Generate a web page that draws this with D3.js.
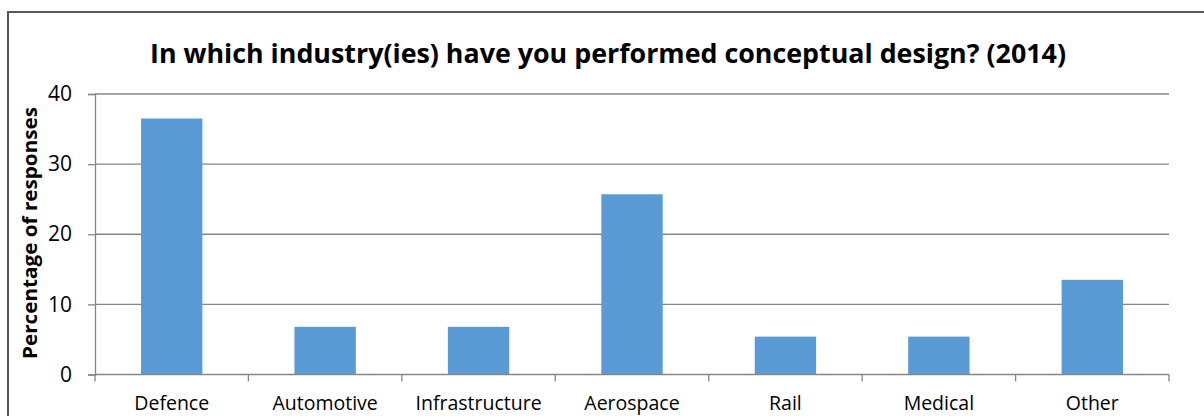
<!DOCTYPE html>
<html>
<head>
<meta charset="utf-8">
<script src="https://cdn.jsdelivr.net/npm/d3@7"></script>
<style>
  html, body { margin: 0; padding: 0; background: #fff; }
  svg { display: block; }
  text { font-family: "Open Sans", "Liberation Sans", sans-serif; fill: #000; }
</style>
</head>
<body>
<svg id="chart" width="1204" height="416"></svg>
<script>
// Survey responses by industry (percentage of 74 respondents)
const categories = ["Defence", "Automotive", "Infrastructure", "Aerospace", "Rail", "Medical", "Other"];
const percentages = [36.5, 6.8, 6.8, 25.7, 5.4, 5.4, 13.5];
const yTicks = [0, 10, 20, 30, 40];
const titleText = "In which industry(ies) have you performed conceptual design? (2014)";
const yAxisTitle = "Percentage of responses";

const svg = d3.select("#chart");
const margin = { left: 95, right: 1169, top: 94, bottom: 374.5 };

// Outer chart frame
svg.append("rect")
  .attr("x", 8).attr("y", 12)
  .attr("width", 1210).attr("height", 420)
  .attr("fill", "none").attr("stroke", "#595959").attr("stroke-width", 2);

const x = d3.scaleBand().domain(categories).range([margin.left, margin.right]).paddingInner(0.6).paddingOuter(0.3);
const xOuter = d3.scaleBand().domain(categories).range([margin.left, margin.right]);
const y = d3.scaleLinear().domain([0, 40]).range([margin.bottom, margin.top]);

// Horizontal gridlines
svg.append("g").selectAll("line").data(yTicks.filter(d => d > 0)).join("line")
  .attr("x1", margin.left).attr("x2", margin.right)
  .attr("y1", d => y(d)).attr("y2", d => y(d))
  .attr("stroke", "#868686").attr("stroke-width", 1.3);

// Bars
svg.append("g").selectAll("rect").data(categories).join("rect")
  .attr("x", d => x(d))
  .attr("width", x.bandwidth())
  .attr("y", (d, i) => y(percentages[i]))
  .attr("height", (d, i) => y(0) - y(percentages[i]))
  .attr("fill", "#5B9BD5");

// Y axis
const yAxis = svg.append("g").attr("transform", `translate(${margin.left},0)`)
  .call(d3.axisLeft(y).tickValues(yTicks).tickSize(7).tickPadding(16));
yAxis.select(".domain").attr("stroke", "#868686").attr("stroke-width", 1.3);
yAxis.selectAll(".tick line").attr("stroke", "#868686").attr("stroke-width", 1.3);
yAxis.selectAll(".tick text").attr("font-size", 21).attr("fill", "#000")
  .style("font-family", '"Open Sans", sans-serif');

// X axis: tick marks on category boundaries
const xg = svg.append("g");
xg.append("line")
  .attr("x1", margin.left).attr("x2", margin.right)
  .attr("y1", y(0)).attr("y2", y(0))
  .attr("stroke", "#868686").attr("stroke-width", 1.3);
const bounds = categories.map(c => xOuter(c)).concat([margin.right]);
xg.selectAll("line.tk").data(bounds).join("line").attr("class", "tk")
  .attr("x1", d => d).attr("x2", d => d)
  .attr("y1", y(0)).attr("y2", y(0) + 7)
  .attr("stroke", "#868686").attr("stroke-width", 1.3);
xg.selectAll("text").data(categories).join("text")
  .attr("x", d => xOuter(d) + xOuter.bandwidth() / 2)
  .attr("y", 410)
  .attr("text-anchor", "middle")
  .attr("font-size", 19.5)
  .text(d => d);

// Y axis title
svg.append("text")
  .attr("transform", "translate(37,233) rotate(-90)")
  .attr("text-anchor", "middle")
  .attr("font-size", 19)
  .attr("font-weight", "bold")
  .attr("textLength", 252).attr("lengthAdjust", "spacingAndGlyphs")
  .text(yAxisTitle);

// Chart title
svg.append("text")
  .attr("x", 608).attr("y", 63)
  .attr("text-anchor", "middle")
  .attr("font-size", 27)
  .attr("font-weight", "bold")
  .attr("textLength", 916).attr("lengthAdjust", "spacingAndGlyphs")
  .text(titleText);
</script>
</body>
</html>
